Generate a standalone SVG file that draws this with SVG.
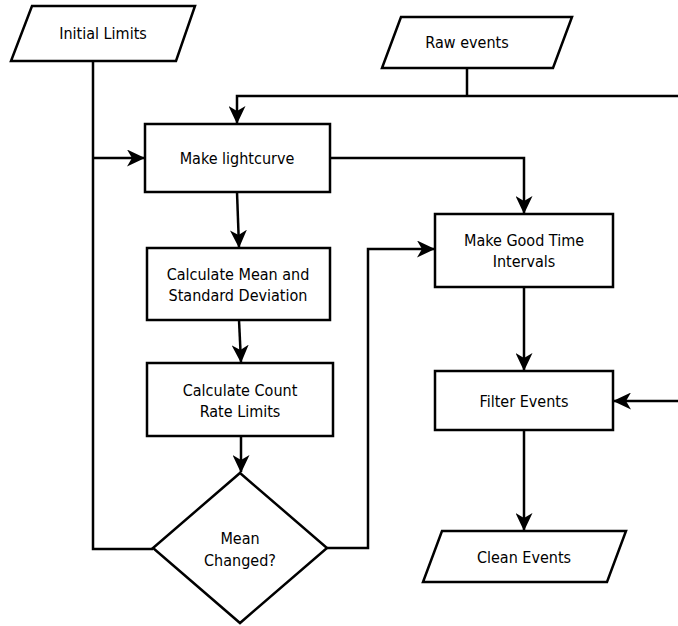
<svg xmlns="http://www.w3.org/2000/svg" width="678" height="626" viewBox="0 0 678 626">
<style>
.shape{fill:#fff;stroke:#000;stroke-width:2.5}
.edge{fill:none;stroke:#000;stroke-width:2.5}
text{font-family:"DejaVu Sans Condensed","DejaVu Sans",Verdana,sans-serif;font-stretch:condensed;font-size:16px;fill:#000;text-anchor:middle}
</style>
<defs>
<marker id="ah" markerUnits="userSpaceOnUse" viewBox="0 0 18 17" refX="17" refY="8.5" markerWidth="18" markerHeight="17" orient="auto">
<path d="M0,0 L18,8.5 L0,17 L5,8.5 z" fill="#000"/>
</marker>
</defs>
<rect width="678" height="626" fill="#fff"/>
<g id="connectors">
<path class="edge" d="M93,61 V549 H153"/>
<path class="edge" d="M93,158 H144" marker-end="url(#ah)"/>
<path class="edge" d="M467,68 V96"/>
<path class="edge" d="M678,96 H237 V123" marker-end="url(#ah)"/>
<path class="edge" d="M330,158 H524 V213" marker-end="url(#ah)"/>
<path class="edge" d="M237,192 L239,247" marker-end="url(#ah)"/>
<path class="edge" d="M239,320 L241,362" marker-end="url(#ah)"/>
<path class="edge" d="M241,436 V472" marker-end="url(#ah)"/>
<path class="edge" d="M327,548 H368 V249 H434" marker-end="url(#ah)"/>
<path class="edge" d="M524,287 V370" marker-end="url(#ah)"/>
<path class="edge" d="M678,401 H614" marker-end="url(#ah)"/>
<path class="edge" d="M524,430 V530" marker-end="url(#ah)"/>
</g>
<g id="initial-limits">
<polygon class="shape" points="32,6 195,6 176,61 11,61"/>
<text x="103" y="39">Initial Limits</text>
</g>
<g id="raw-events">
<polygon class="shape" points="401,17 572,17 553,68 382,68"/>
<text x="467" y="48">Raw events</text>
</g>
<g id="make-lightcurve">
<rect class="shape" x="145" y="124" width="185" height="68"/>
<text x="237" y="164">Make lightcurve</text>
</g>
<g id="calc-mean">
<rect class="shape" x="147" y="248" width="183" height="72"/>
<text x="238" y="280">Calculate Mean and</text>
<text x="238" y="301">Standard Deviation</text>
</g>
<g id="calc-count">
<rect class="shape" x="147" y="363" width="186" height="73"/>
<text x="240" y="396">Calculate Count</text>
<text x="240" y="417">Rate Limits</text>
</g>
<g id="mean-changed">
<polygon class="shape" points="240,473 327,548 240,623 153,548"/>
<text x="240" y="544">Mean</text>
<text x="240" y="566">Changed?</text>
</g>
<g id="make-gti">
<rect class="shape" x="435" y="214" width="178" height="73"/>
<text x="524" y="246">Make Good Time</text>
<text x="524" y="267">Intervals</text>
</g>
<g id="filter-events">
<rect class="shape" x="435" y="371" width="178" height="59"/>
<text x="524" y="407">Filter Events</text>
</g>
<g id="clean-events">
<polygon class="shape" points="442,531 626,531 607,582 423,582"/>
<text x="524" y="563">Clean Events</text>
</g>
</svg>
